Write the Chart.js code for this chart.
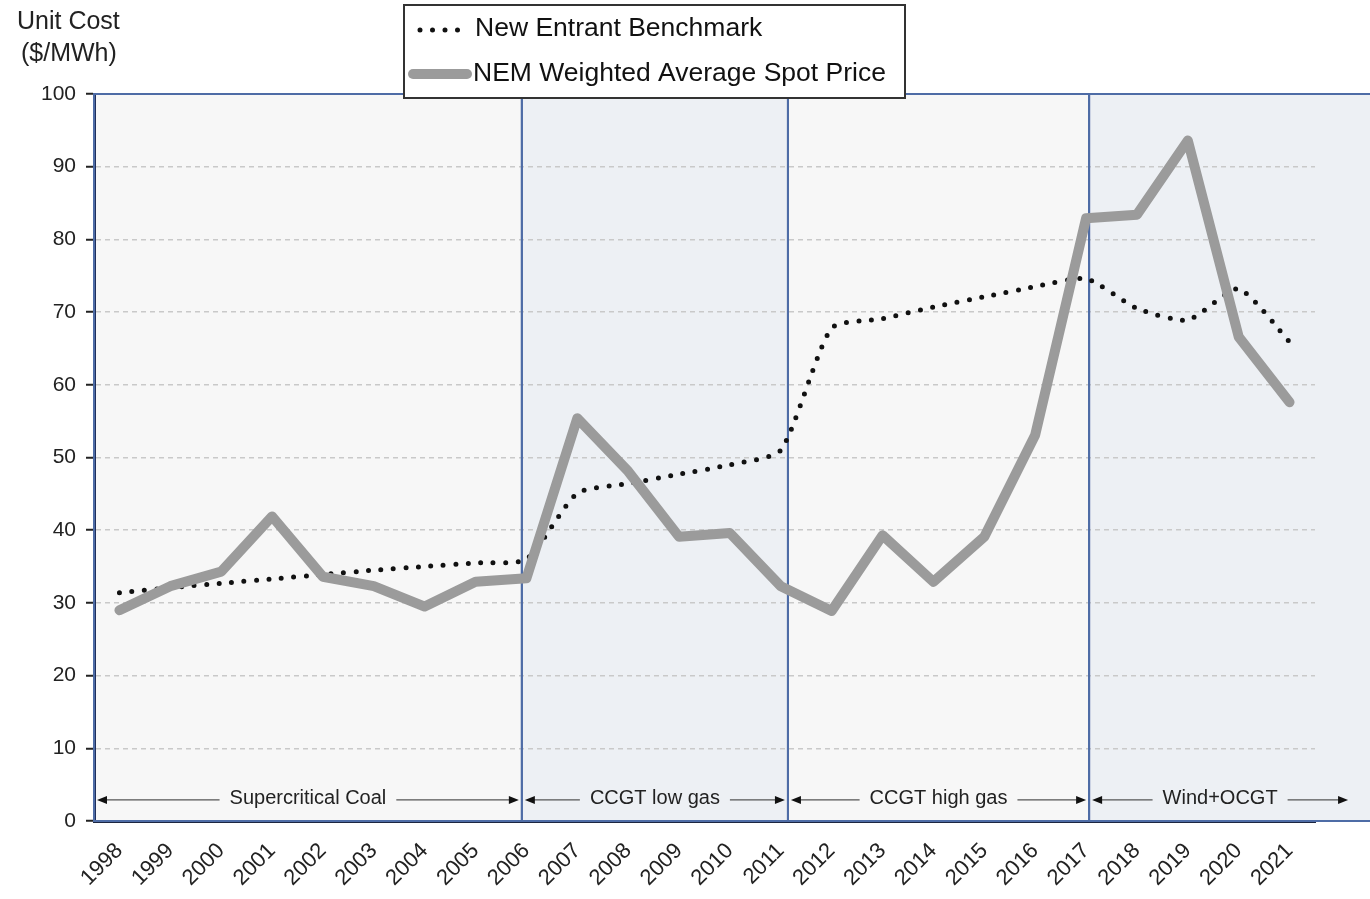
<!DOCTYPE html>
<html>
<head>
<meta charset="utf-8">
<script src="https://cdn.jsdelivr.net/npm/chart.js@4.4.0/dist/chart.umd.min.js"></script>
<style>
  html, body { margin: 0; padding: 0; background: #fff; }
  #wrap { width: 1370px; height: 899px; position: relative; }
</style>
</head>
<body>
<div id="wrap"><canvas id="chart" width="1370" height="899"></canvas></div>
<script>
const years = ['1998', '1999', '2000', '2001', '2002', '2003', '2004', '2005', '2006', '2007', '2008', '2009',
  '2010', '2011', '2012', '2013', '2014', '2015', '2016', '2017', '2018', '2019', '2020', '2021'];
const spotPrice = [29.0, 32.3, 34.3, 41.9, 33.6, 32.3, 29.5, 32.9, 33.4, 55.4, 48.1, 39.1,
  39.6, 32.3, 28.9, 39.3, 32.9, 39.1, 53.1, 82.9, 83.4, 93.6, 66.6, 57.6];
const benchmark = [31.4, 32.1, 32.7, 33.3, 33.9, 34.5, 35.0, 35.5, 36.0, 45.1, 46.4, 47.7,
  49.0, 51.0, 67.8, 69.1, 70.7, 72.1, 73.5, 74.6, 70.5, 68.9, 73.2, 65.9];
const yTicks = [0, 10, 20, 30, 40, 50, 60, 70, 80, 90, 100];

// regions along the x axis, edges in category index units
const regionNames = ['Supercritical Coal', 'CCGT low gas', 'CCGT high gas', 'Wind+OCGT'];
const regionEdges = [-0.5, 7.91, 13.14, 19.06, 24.15];
const regionFills = ['#f7f7f7', '#edf0f4', '#f7f7f7', '#edf0f4'];

const REGION_BLUE = '#4e6ca6';
const FONT = '"Liberation Sans", Arial, sans-serif';

const regionPlugin = {
  id: 'regions',
  beforeDraw(chart) {
    const { ctx, chartArea, scales: { x } } = chart;
    ctx.save();
    regionNames.forEach((name, i) => {
      const x0 = x.getPixelForValue(regionEdges[i]);
      const x1 = i === regionNames.length - 1 ? chart.width : x.getPixelForValue(regionEdges[i + 1]);
      ctx.fillStyle = regionFills[i];
      ctx.fillRect(x0, chartArea.top, x1 - x0, chartArea.bottom - chartArea.top);
    });
    ctx.restore();
  },
  beforeDatasetsDraw(chart) {
    const { ctx, chartArea, scales: { x, y } } = chart;
    ctx.save();
    ctx.strokeStyle = REGION_BLUE;
    ctx.lineWidth = 2;
    regionNames.forEach((name, i) => {
      const x0 = x.getPixelForValue(regionEdges[i]);
      const x1 = i === regionNames.length - 1 ? chart.width + 2 : x.getPixelForValue(regionEdges[i + 1]);
      ctx.strokeRect(x0, chartArea.top, x1 - x0, chartArea.bottom - chartArea.top);
    });

    // arrows with region names
    const ay = y.getPixelForValue(2.9);
    ctx.font = '20px ' + FONT;
    ctx.textAlign = 'center';
    ctx.textBaseline = 'middle';
    regionNames.forEach((name, i) => {
      const a0 = x.getPixelForValue(regionEdges[i]) + 3;
      const a1 = i === regionNames.length - 1 ? x.getPixelForValue(regionEdges[i + 1]) : x.getPixelForValue(regionEdges[i + 1]) - 3;
      const mid = (a0 + a1) / 2;
      const tw = ctx.measureText(name).width;
      ctx.fillStyle = '#222';
      ctx.fillText(name, mid, ay - 1);
      ctx.strokeStyle = '#555';
      ctx.lineWidth = 1.3;
      ctx.beginPath();
      ctx.moveTo(a0 + 8, ay);
      ctx.lineTo(mid - tw / 2 - 10, ay);
      ctx.moveTo(mid + tw / 2 + 10, ay);
      ctx.lineTo(a1 - 8, ay);
      ctx.stroke();
      ctx.fillStyle = '#111';
      ctx.beginPath();
      ctx.moveTo(a0, ay); ctx.lineTo(a0 + 10, ay - 4); ctx.lineTo(a0 + 10, ay + 4); ctx.closePath();
      ctx.moveTo(a1, ay); ctx.lineTo(a1 - 10, ay - 4); ctx.lineTo(a1 - 10, ay + 4); ctx.closePath();
      ctx.fill();
    });
    ctx.restore();
  },
  afterDraw(chart) {
    const { ctx } = chart;
    ctx.save();
    // axis title
    ctx.fillStyle = '#222';
    ctx.font = '25px ' + FONT;
    ctx.textAlign = 'left';
    ctx.textBaseline = 'middle';
    ctx.fillText('Unit Cost', 17, 22);
    ctx.fillText('($/MWh)', 21, 54);

    // legend box
    ctx.fillStyle = '#fff';
    ctx.fillRect(404, 5, 501, 93);
    ctx.strokeStyle = '#333';
    ctx.lineWidth = 2;
    ctx.strokeRect(404, 5, 501, 93);

    const ds = chart.data.datasets;
    const bench = ds.find(d => d.key === 'bench');
    const spot = ds.find(d => d.key === 'spot');

    ctx.strokeStyle = bench.borderColor;
    ctx.lineWidth = bench.borderWidth;
    ctx.lineCap = 'round';
    ctx.setLineDash(bench.borderDash);
    ctx.beginPath();
    ctx.moveTo(420, 30);
    ctx.lineTo(465, 30);
    ctx.stroke();
    ctx.setLineDash([]);

    ctx.strokeStyle = spot.borderColor;
    ctx.lineWidth = spot.borderWidth;
    ctx.beginPath();
    ctx.moveTo(413, 74);
    ctx.lineTo(467, 74);
    ctx.stroke();

    ctx.fillStyle = '#111';
    ctx.font = '26.5px ' + FONT;
    ctx.fillText(bench.label, 475, 29);
    ctx.fillText(spot.label, 473, 74);
    ctx.restore();
  }
};

new Chart(document.getElementById('chart'), {
  type: 'line',
  data: {
    labels: years,
    datasets: [
      {
        key: 'spot',
        label: 'NEM Weighted Average Spot Price',
        data: spotPrice,
        borderColor: '#9b9b9b',
        borderWidth: 10,
        borderCapStyle: 'round',
        borderJoinStyle: 'round',
        pointRadius: 0,
        tension: 0,
        order: 0
      },
      {
        key: 'bench',
        label: 'New Entrant Benchmark',
        data: benchmark,
        borderColor: '#111',
        borderWidth: 5,
        borderDash: [0, 12.5],
        borderCapStyle: 'round',
        pointRadius: 0,
        tension: 0.2,
        order: 1
      }
    ]
  },
  options: {
    responsive: false,
    animation: false,
    events: [],
    layout: { padding: { top: 94, right: 55, left: 0, bottom: 0 } },
    plugins: {
      legend: { display: false },
      tooltip: { enabled: false }
    },
    scales: {
      x: {
        offset: true,
        afterFit(scale) { scale.height = 78; },
        grid: { display: false },
        border: { color: '#1c2540', width: 3 },
        ticks: {
          color: '#222',
          maxRotation: 45,
          minRotation: 45,
          autoSkip: false,
          padding: 9,
          font: { size: 22, family: FONT }
        }
      },
      y: {
        min: 0,
        max: 100,
        afterFit(scale) { scale.width = 94; },
        afterBuildTicks(scale) { scale.ticks = yTicks.map(v => ({ value: v })); },
        grid: {
          color: ctx => (ctx.tick && (ctx.tick.value === 0 || ctx.tick.value === 100)) ? 'rgba(0,0,0,0)' : '#c9c9c9',
          lineWidth: 1.5,
          tickColor: '#222',
          tickLength: 8,
          tickWidth: 2,
          tickBorderDash: []
        },
        border: { color: '#1f2f5c', width: 3, dash: [5, 4] },
        ticks: {
          color: '#222',
          padding: 10,
          font: { size: 21, family: FONT }
        }
      }
    }
  },
  plugins: [regionPlugin]
});
</script>
</body>
</html>
